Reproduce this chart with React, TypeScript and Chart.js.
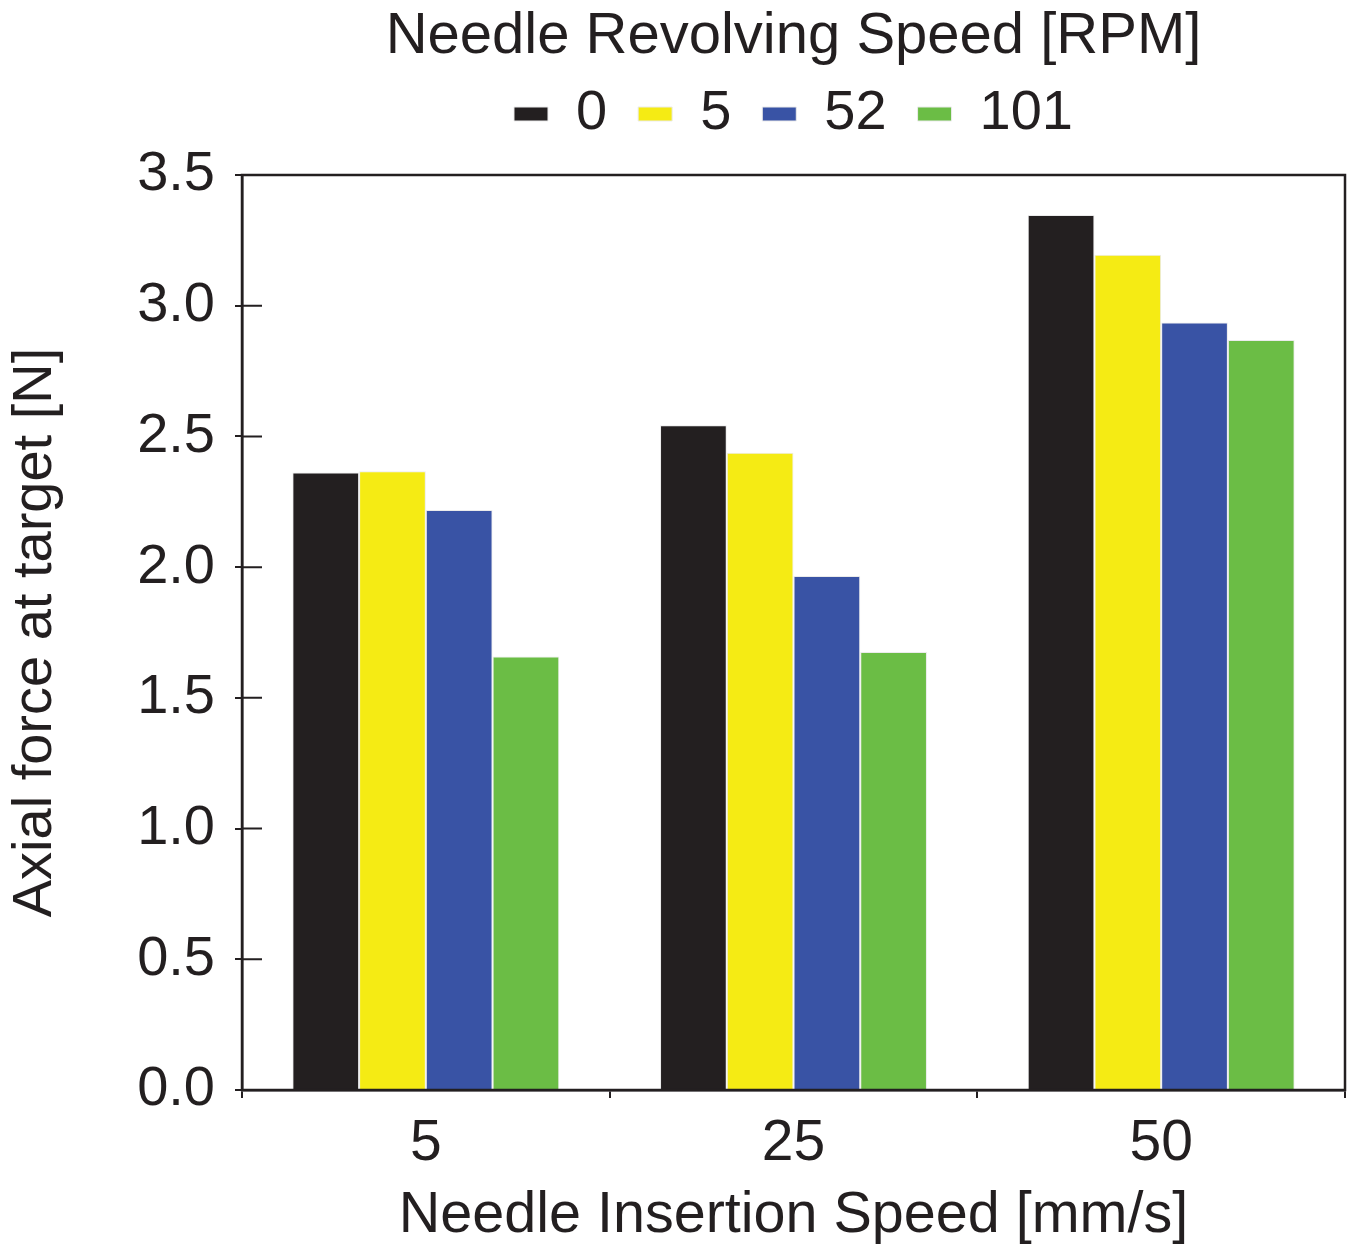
import React, { useEffect, useRef } from "react";
import { Chart, registerables } from "chart.js";

Chart.register(...registerables);

const categories = ["5", "25", "50"];
const seriesLabels = ["0", "5", "52", "101"];
const rpm0 = [2.362, 2.543, 3.347];
const rpm5 = [2.367, 2.438, 3.195];
const rpm52 = [2.219, 1.966, 2.936];
const rpm101 = [1.658, 1.675, 2.869];
const colors = ["#231f20", "#f5eb14", "#3953a5", "#6bbd45"];
const yTicks = [0, 0.5, 1.0, 1.5, 2.0, 2.5, 3.0, 3.5];

const INK = "#231f20";
const FONT = "'Liberation Sans', Arial, sans-serif";

const legendSpacer = {
  id: "legendSpacer",
  beforeLayout(chart: any) {
    const lg = chart.legend;
    if (lg && !lg._spacerPatched) {
      const orig = lg.fit.bind(lg);
      lg.fit = function () {
        orig();
        this.height += 23;
      };
      lg._spacerPatched = true;
    }
  },
};

const framePlugin = {
  id: "frame",
  afterDraw(chart: any) {
    const { ctx, chartArea } = chart;
    const y = chart.scales.y;
    ctx.save();
    ctx.strokeStyle = INK;
    ctx.lineWidth = 2.5;
    ctx.strokeRect(chartArea.left, chartArea.top, chartArea.right - chartArea.left, chartArea.bottom - chartArea.top);
    ctx.lineWidth = 2;
    ctx.beginPath();
    for (const v of yTicks) {
      const py = y.getPixelForValue(v);
      ctx.moveTo(chartArea.left, py);
      ctx.lineTo(chartArea.left + 20, py);
    }
    ctx.stroke();
    ctx.restore();
  },
};

export default function App() {
  const ref = useRef<HTMLCanvasElement>(null);
  useEffect(() => {
    document.body.style.margin = "0";
    const data = [rpm0, rpm5, rpm52, rpm101];
    const chart = new Chart(ref.current!, {
      type: "bar",
      data: {
        labels: categories,
        datasets: seriesLabels.map((l, i) => ({
          label: l,
          data: data[i],
          backgroundColor: colors[i],
          borderColor: "rgba(235,235,235,1)",
          borderWidth: 1,
          categoryPercentage: 0.726,
          barPercentage: 1.0,
        })),
      },
      options: {
        animation: false,
        responsive: false,
        layout: { padding: { left: 0, right: 8, top: 0, bottom: 0 } },
        plugins: {
          title: {
            display: true,
            fullSize: false,
            text: "Needle Revolving Speed [RPM]",
            color: INK,
            font: { family: FONT, size: 58, weight: "normal", lineHeight: 30 / 58 },
            padding: { top: 22, bottom: 3 },
          },
          legend: {
            display: true,
            fullSize: false,
            labels: {
              color: INK,
              font: { family: FONT, size: 56 },
              boxWidth: 34,
              boxHeight: 14,
              padding: 31,
            },
          },
          tooltip: { enabled: false },
        },
        scales: {
          x: {
            grid: { offset: true, drawOnChartArea: false, drawTicks: true, tickLength: 8, color: INK, lineWidth: 2 },
            border: { display: true, color: INK, width: 2.5 },
            ticks: { color: INK, font: { family: FONT, size: 57 }, padding: 12 },
            title: {
              display: true,
              text: "Needle Insertion Speed [mm/s]",
              color: INK,
              font: { family: FONT, size: 57.5, lineHeight: 1.1 },
              padding: { top: 0, bottom: 1 },
            },
            afterFit(scale: any) {
              scale.height = 159;
            },
          },
          y: {
            min: 0,
            max: 3.5,
            grid: { drawOnChartArea: false, drawTicks: true, tickLength: 7, color: INK, lineWidth: 2 },
            border: { display: true, color: INK, width: 2.5 },
            ticks: {
              stepSize: 0.5,
              color: INK,
              font: { family: FONT, size: 56 },
              padding: 20,
              callback: (v: any) => Number(v).toFixed(1),
            },
            title: {
              display: true,
              text: "Axial force at target [N]",
              color: INK,
              font: { family: FONT, size: 56, lineHeight: 1.2 },
              padding: { top: 2, bottom: 0 },
            },
            afterFit(scale: any) {
              scale.width = 242;
            },
          },
        },
      } as any,
      plugins: [legendSpacer, framePlugin],
    });
    return () => chart.destroy();
  }, []);
  return <canvas ref={ref} width={1353} height={1249} style={{ display: "block" }} />;
}
